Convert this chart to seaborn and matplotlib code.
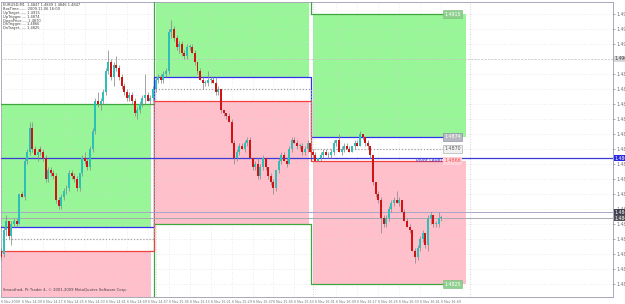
import numpy as np
import matplotlib
matplotlib.use("Agg")
import matplotlib.pyplot as plt
import seaborn as sns
from matplotlib.patches import Rectangle

sns.set_style("white")
plt.rcParams['font.family'] = ['DejaVu Sans']

# ---------------- data (EURUSD M1, 6 Nov 2009, 14:01 .. 16:49) ----------------
opens = [1.4836, 1.4835, 1.4843, 1.4846, 1.4841, 1.4845, 1.4846, 1.4845, 1.4855, 1.4854,
         1.4866, 1.4869, 1.4877, 1.4870, 1.4868, 1.4870, 1.4869, 1.4867, 1.4860, 1.4863,
         1.4862, 1.4861, 1.4853, 1.4851, 1.4854, 1.4856, 1.4857, 1.4862, 1.4861, 1.4860,
         1.4857, 1.4862, 1.4867, 1.4866, 1.4864, 1.4870, 1.4876, 1.4886, 1.4885, 1.4886,
         1.4889, 1.4896, 1.4899, 1.4894, 1.4898, 1.4897, 1.4894, 1.4891, 1.4889, 1.4887,
         1.4888, 1.4886, 1.4882, 1.4883, 1.4885, 1.4887, 1.4888, 1.4886, 1.4887, 1.4890,
         1.4893, 1.4894, 1.4893, 1.4895, 1.4896, 1.4909, 1.4910, 1.4907, 1.4904, 1.4905,
         1.4902, 1.4901, 1.4904, 1.4904, 1.4902, 1.4899, 1.4896, 1.4893, 1.4892, 1.4892,
         1.4893, 1.4893, 1.4892, 1.4889, 1.4890, 1.4883, 1.4882, 1.4881, 1.4879, 1.4872,
         1.4867, 1.4869, 1.4871, 1.4870, 1.4872, 1.4873, 1.4867, 1.4864, 1.4865, 1.4861,
         1.4864, 1.4867, 1.4864, 1.4861, 1.4859, 1.4857, 1.4863, 1.4866, 1.4868, 1.4866,
         1.4865, 1.4870, 1.4873, 1.4872, 1.4871, 1.4871, 1.4869, 1.4870, 1.4872, 1.4869,
         1.4868, 1.4866, 1.4867, 1.4868, 1.4869, 1.4868, 1.4868, 1.4869, 1.4872, 1.4873,
         1.4869, 1.4870, 1.4871, 1.4870, 1.4869, 1.4871, 1.4872, 1.4871, 1.4875, 1.4874,
         1.4872, 1.4871, 1.4868, 1.4859, 1.4855, 1.4853, 1.4847, 1.4845, 1.4847, 1.4850,
         1.4852, 1.4853, 1.4852, 1.4853, 1.4849, 1.4846, 1.4844, 1.4843, 1.4836, 1.4834,
         1.4837, 1.4840, 1.4842, 1.4838, 1.4847, 1.4848, 1.4845, 1.4845, 1.4847]
highs = [1.4837, 1.4844, 1.4848, 1.4846, 1.4846, 1.4847, 1.4847, 1.4855, 1.4856, 1.4867,
         1.4870, 1.4879, 1.4879, 1.4871, 1.4870, 1.4871, 1.4870, 1.4868, 1.4864, 1.4864,
         1.4863, 1.4862, 1.4854, 1.4855, 1.4857, 1.4858, 1.4863, 1.4863, 1.4862, 1.4861,
         1.4862, 1.4868, 1.4869, 1.4867, 1.4871, 1.4877, 1.4887, 1.4889, 1.4887, 1.4890,
         1.4897, 1.4903, 1.4900, 1.4899, 1.4901, 1.4898, 1.4895, 1.4892, 1.4890, 1.4889,
         1.4889, 1.4887, 1.4884, 1.4886, 1.4888, 1.4895, 1.4889, 1.4888, 1.4891, 1.4894,
         1.4895, 1.4895, 1.4896, 1.4897, 1.4910, 1.4913, 1.4911, 1.4908, 1.4906, 1.4906,
         1.4903, 1.4905, 1.4905, 1.4905, 1.4903, 1.4899, 1.4897, 1.4894, 1.4893, 1.4896,
         1.4894, 1.4894, 1.4894, 1.4891, 1.4890, 1.4883, 1.4882, 1.4882, 1.4880, 1.4873,
         1.4870, 1.4872, 1.4872, 1.4873, 1.4874, 1.4874, 1.4867, 1.4866, 1.4867, 1.4865,
         1.4868, 1.4867, 1.4864, 1.4862, 1.4860, 1.4863, 1.4867, 1.4869, 1.4869, 1.4867,
         1.4871, 1.4874, 1.4874, 1.4873, 1.4872, 1.4872, 1.4871, 1.4873, 1.4872, 1.4870,
         1.4869, 1.4867, 1.4869, 1.4870, 1.4870, 1.4869, 1.4870, 1.4873, 1.4873, 1.4875,
         1.4871, 1.4872, 1.4872, 1.4871, 1.4871, 1.4873, 1.4873, 1.4876, 1.4875, 1.4874,
         1.4873, 1.4871, 1.4868, 1.4859, 1.4856, 1.4854, 1.4848, 1.4848, 1.4851, 1.4853,
         1.4854, 1.4856, 1.4854, 1.4853, 1.4850, 1.4847, 1.4845, 1.4843, 1.4837, 1.4838,
         1.4841, 1.4843, 1.4842, 1.4848, 1.4849, 1.4848, 1.4846, 1.4849, 1.4848]
lows = [1.4833, 1.4834, 1.4841, 1.4840, 1.4838, 1.4844, 1.4844, 1.4845, 1.4854, 1.4853,
        1.4865, 1.4868, 1.4869, 1.4868, 1.4866, 1.4868, 1.4866, 1.4859, 1.4859, 1.4861,
        1.4860, 1.4852, 1.4850, 1.4850, 1.4853, 1.4855, 1.4856, 1.4860, 1.4859, 1.4856,
        1.4856, 1.4861, 1.4865, 1.4863, 1.4863, 1.4869, 1.4875, 1.4884, 1.4883, 1.4885,
        1.4888, 1.4895, 1.4893, 1.4891, 1.4896, 1.4893, 1.4890, 1.4888, 1.4886, 1.4886,
        1.4885, 1.4881, 1.4880, 1.4882, 1.4884, 1.4885, 1.4886, 1.4885, 1.4886, 1.4889,
        1.4892, 1.4892, 1.4892, 1.4894, 1.4895, 1.4907, 1.4906, 1.4903, 1.4902, 1.4901,
        1.4900, 1.4900, 1.4903, 1.4902, 1.4898, 1.4895, 1.4893, 1.4890, 1.4891, 1.4891,
        1.4892, 1.4892, 1.4888, 1.4888, 1.4882, 1.4881, 1.4880, 1.4879, 1.4872, 1.4865,
        1.4866, 1.4868, 1.4870, 1.4869, 1.4871, 1.4867, 1.4863, 1.4863, 1.4860, 1.4860,
        1.4863, 1.4863, 1.4860, 1.4858, 1.4855, 1.4856, 1.4862, 1.4865, 1.4866, 1.4864,
        1.4865, 1.4869, 1.4872, 1.4870, 1.4870, 1.4868, 1.4868, 1.4869, 1.4869, 1.4867,
        1.4866, 1.4866, 1.4866, 1.4867, 1.4868, 1.4867, 1.4867, 1.4868, 1.4871, 1.4869,
        1.4868, 1.4869, 1.4870, 1.4869, 1.4869, 1.4870, 1.4871, 1.4871, 1.4873, 1.4871,
        1.4870, 1.4867, 1.4858, 1.4854, 1.4852, 1.4842, 1.4844, 1.4844, 1.4846, 1.4849,
        1.4851, 1.4852, 1.4851, 1.4849, 1.4846, 1.4844, 1.4842, 1.4836, 1.4832, 1.4833,
        1.4836, 1.4839, 1.4837, 1.4836, 1.4845, 1.4844, 1.4844, 1.4844, 1.4846]
closes = [1.4834, 1.4843, 1.4846, 1.4841, 1.4845, 1.4846, 1.4845, 1.4855, 1.4854, 1.4866,
          1.4869, 1.4877, 1.4870, 1.4868, 1.4869, 1.4869, 1.4867, 1.4860, 1.4863, 1.4862,
          1.4861, 1.4853, 1.4851, 1.4854, 1.4856, 1.4857, 1.4862, 1.4861, 1.4860, 1.4857,
          1.4862, 1.4867, 1.4866, 1.4864, 1.4870, 1.4876, 1.4886, 1.4885, 1.4886, 1.4889,
          1.4896, 1.4899, 1.4894, 1.4898, 1.4897, 1.4894, 1.4891, 1.4889, 1.4887, 1.4888,
          1.4886, 1.4882, 1.4883, 1.4885, 1.4887, 1.4888, 1.4886, 1.4887, 1.4890, 1.4893,
          1.4894, 1.4893, 1.4895, 1.4896, 1.4909, 1.4910, 1.4907, 1.4904, 1.4905, 1.4902,
          1.4901, 1.4904, 1.4904, 1.4902, 1.4899, 1.4896, 1.4893, 1.4892, 1.4892, 1.4893,
          1.4893, 1.4892, 1.4889, 1.4890, 1.4883, 1.4882, 1.4881, 1.4879, 1.4872, 1.4867,
          1.4869, 1.4871, 1.4870, 1.4872, 1.4873, 1.4867, 1.4864, 1.4865, 1.4861, 1.4864,
          1.4867, 1.4864, 1.4861, 1.4859, 1.4857, 1.4863, 1.4866, 1.4868, 1.4866, 1.4865,
          1.4870, 1.4873, 1.4872, 1.4871, 1.4871, 1.4869, 1.4870, 1.4872, 1.4869, 1.4868,
          1.4866, 1.4867, 1.4868, 1.4869, 1.4868, 1.4868, 1.4869, 1.4872, 1.4873, 1.4869,
          1.4870, 1.4871, 1.4870, 1.4869, 1.4871, 1.4872, 1.4871, 1.4875, 1.4874, 1.4872,
          1.4871, 1.4868, 1.4859, 1.4855, 1.4853, 1.4847, 1.4845, 1.4847, 1.4850, 1.4852,
          1.4853, 1.4852, 1.4853, 1.4849, 1.4846, 1.4844, 1.4843, 1.4836, 1.4834, 1.4837,
          1.4840, 1.4842, 1.4838, 1.4847, 1.4848, 1.4845, 1.4845, 1.4847, 1.4847]

time_labels = ["6 Nov 2009", "6 Nov 14:09", "6 Nov 14:17", "6 Nov 14:25", "6 Nov 14:33",
               "6 Nov 14:41", "6 Nov 14:49", "6 Nov 14:57", "6 Nov 15:05", "6 Nov 15:13",
               "6 Nov 15:21", "6 Nov 15:29", "6 Nov 15:37", "6 Nov 15:45", "6 Nov 15:53",
               "6 Nov 16:01", "6 Nov 16:09", "6 Nov 16:17", "6 Nov 16:25", "6 Nov 16:33",
               "6 Nov 16:41", "6 Nov 16:49"]
price_labels = ["1.4825", "1.4830", "1.4835", "1.4840", "1.4845", "1.4850", "1.4855",
                "1.4860", "1.4865", "1.4870", "1.4875", "1.4880", "1.4885", "1.4890",
                "1.4895", "1.4900", "1.4905", "1.4910", "1.4915"]

# hourly box levels (14:00, 15:00, 16:00)
up_target = [1.4885, 1.4935, 1.4915]
up_trigger = [1.4844, 1.4894, 1.4874]
open_level = [1.4840, 1.4890, 1.4870]
dn_trigger = [1.4836, 1.4886, 1.4866]
dn_target = [1.4795, 1.4845, 1.4825]

pivot_level = 1.4867
round_level = 1.4900
bid_price = 1.4847
ask_price = 1.4849

info_lines = ["EURUSD,M1  1.4847 1.4849 1.4846 1.4847",
              "BoxTime....... 2009.11.06 16:00",
              "UpTarget...... 1.4915",
              "UpTrigger..... 1.4874",
              "OpenPrice..... 1.4870",
              "DnTrigger..... 1.4866",
              "DnTarget...... 1.4825"]
copyright_text = "Smoothed, Pt Trader 4, \u00a9 2001-2009 MetaQuotes Software Corp."

# ---------------- figure ----------------
W, H = 625, 304
fig = plt.figure(figsize=(W / 100, H / 100), dpi=100)
fig.patch.set_facecolor("white")
ax = fig.add_axes([1 / W, 7 / H, 612 / W, 295 / H])
ax.set_facecolor("white")

PX = 2.62  # pixels per bar
ax.set_xlim(0, 612 / PX)
ax.set_ylim(1.4800 + 62 / 30000, 1.4800 + 357 / 30000)

idx = np.arange(len(opens))
o = np.array(opens); h = np.array(highs); l = np.array(lows); c = np.array(closes)

GREEN_FILL = "#98f598"
PINK_FILL = "#ffc0cb"
GREEN_LINE = "#3fa53f"
BLUE_LINE = "#3030f0"
RED_LINE = "#f04040"

# hour spans (bar index units)
fill_spans = [(-1.0, 57.4), (59.3, 117.4), (119.1, 177.4)]
for k, (x0, x1) in enumerate(fill_spans):
    ax.add_patch(Rectangle((x0, up_trigger[k]), x1 - x0, up_target[k] - up_trigger[k],
                           facecolor=GREEN_FILL, edgecolor="none", zorder=1))
    ax.add_patch(Rectangle((x0, dn_target[k]), x1 - x0, dn_trigger[k] - dn_target[k],
                           facecolor=PINK_FILL, edgecolor="none", zorder=1))

# hour separators
for xs in [59, 119, 179]:
    ax.axvline(xs, color="#c8c8c8", lw=0.6, ls=(0, (1, 2)), zorder=1.2)

# step level lines
step_x = [-1.0, 58.5, 118.5, 168.8]
for levels, col, ls in [(up_target, GREEN_LINE, "-"), (dn_target, GREEN_LINE, "-"),
                        (up_trigger, BLUE_LINE, "-"), (dn_trigger, RED_LINE, "-"),
                        (open_level, "#a0a0a0", (0, (1, 1.5)))]:
    sns.lineplot(x=step_x, y=levels + [levels[-1]], drawstyle="steps-post", color=col,
                 lw=0.9, ls=ls, ax=ax, sort=False, estimator=None, legend=False, zorder=3)

# full-width horizontal lines
ax.axhline(round_level, color="#c0c0c0", lw=0.6, ls=(0, (2, 2)), zorder=2)
ax.axhline(pivot_level, color="#3a3ad8", lw=0.9, zorder=3.5)
ax.axhline(ask_price, color="#a8a8c8", lw=0.7, zorder=3.5)
ax.axhline(bid_price, color="#a8a8b0", lw=0.7, zorder=3.5)

# candles
bull = c >= o
wick_col = "#8a8a8a"
ax.vlines(idx, l, h, color=wick_col, lw=0.55, zorder=5)
body_h = np.maximum(np.abs(c - o), 0.00004)
body_b = np.minimum(o, c)
ax.bar(idx[bull], body_h[bull], bottom=body_b[bull], width=0.75, color="#2cc0b8",
       edgecolor="none", zorder=6)
ax.bar(idx[~bull], body_h[~bull], bottom=body_b[~bull], width=0.75, color="#d01414",
       edgecolor="none", zorder=6)

# labels at the end of hour-3 lines
lab_x = 172.4
ax.text(lab_x, up_target[2], f"{up_target[2]:.4f}", fontsize=3.4, color="white", ha="center",
        va="center", zorder=8,
        bbox=dict(boxstyle="square,pad=0.25", fc="#8fcf8f", ec="#7ab87a", lw=0.4))
ax.text(lab_x, up_trigger[2], f"{up_trigger[2]:.4f}", fontsize=3.4, color="white", ha="center",
        va="center", zorder=8,
        bbox=dict(boxstyle="square,pad=0.25", fc="#b8b8c0", ec="#8080a0", lw=0.4))
ax.text(lab_x, open_level[2], f"{open_level[2]:.4f}", fontsize=3.4, color="#606060", ha="center",
        va="center", zorder=8,
        bbox=dict(boxstyle="square,pad=0.25", fc="#f0f0f0", ec="#a0a0a0", lw=0.4))
ax.text(lab_x, dn_trigger[2], f"{dn_trigger[2]:.4f}", fontsize=3.4, color="#f05050", ha="center",
        va="center", zorder=8,
        bbox=dict(boxstyle="square,pad=0.25", fc="#ffd0d8", ec="none", lw=0.4))
ax.text(lab_x, dn_target[2], f"{dn_target[2]:.4f}", fontsize=3.4, color="white", ha="center",
        va="center", zorder=8,
        bbox=dict(boxstyle="square,pad=0.25", fc="#8fcf8f", ec="#7ab87a", lw=0.4))
ax.text(168.3, pivot_level, "Pivot Level", fontsize=3.4, color="#3a3ad8", ha="right",
        va="top", zorder=8)

# grid and axes
highlighted = [round_level]
price_ticks = [float(p) for p in price_labels]
ax.set_yticks(price_ticks)
ax.yaxis.tick_right()
ax.set_yticklabels(["" if abs(float(p) - round_level) < 1e-6 else p for p in price_labels],
                   fontsize=3.3, color="#505050")
ax.tick_params(axis="y", length=1.5, width=0.4, pad=1, colors="#707070")
time_ticks = idx[::8]
ax.set_xticks(time_ticks)
ax.set_xticklabels(time_labels, fontsize=2.3, color="#505050", ha="left")
ax.tick_params(axis="x", length=1.5, width=0.4, pad=0.8, colors="#707070")
ax.set_axisbelow(False)
ax.grid(True, color="#d4d4d4", lw=0.45, ls=(0, (1, 3)))
for sp in ax.spines.values():
    sp.set_color("#a8a8b8")
    sp.set_linewidth(0.7)

# right-axis highlighted prices
ytr = ax.get_yaxis_transform()
for val, fc, tc in [(pivot_level, "#2a2ae0", "white"), (ask_price, "#404050", "white"),
                    (bid_price, "#505058", "white"), (round_level, "#d8d8d8", "#404040")]:
    ax.text(1.003, val, f"{val:.4f}", transform=ytr, fontsize=3.3, color=tc, ha="left",
            va="center", zorder=9, clip_on=False,
            bbox=dict(boxstyle="square,pad=0.2", fc=fc, ec="none"))

# info text
for n, line in enumerate(info_lines):
    ax.text(0.004, 1 - (1.5 + n * 3.8) / 295, line, transform=ax.transAxes, fontsize=2.6,
            color="#404040", ha="left", va="top", zorder=9)
ax.text(0.004, 5 / 295, copyright_text, transform=ax.transAxes, fontsize=2.7,
        color="#404040", ha="left", va="bottom", zorder=9)

ax.set_xlabel(""); ax.set_ylabel("")
fig.savefig("out.png", dpi=100, facecolor="white")
